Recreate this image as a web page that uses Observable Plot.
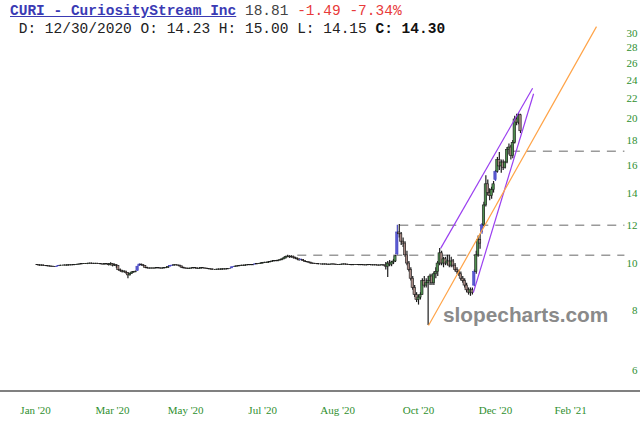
<!DOCTYPE html>
<html>
<head>
<meta charset="utf-8">
<script src="https://cdn.jsdelivr.net/npm/d3@7"></script>
<script src="https://cdn.jsdelivr.net/npm/@observablehq/plot@0.6"></script>
<style>
  body { margin: 0; background: #fff; }
  #wrap { position: relative; width: 640px; height: 426px; overflow: hidden; background: #fff; }
  #chart { position: absolute; left: 0; top: 0; }
  #hdr { position: absolute; left: 10px; top: 2px; font-family: "Liberation Mono", "Courier New", monospace;
         font-size: 14.5px; line-height: 18px; white-space: pre; color: #222; }
  #hdr .sym { color: #3a3ab4; font-weight: bold; text-decoration: underline; }
  #hdr .last { color: #444; }
  #hdr .chg { color: #e83a3a; }
  #hdr b { color: #111; }
  #wm { position: absolute; left: 443px; top: 303px; font-family: "Liberation Sans", Arial, sans-serif;
        font-weight: bold; font-size: 20.8px; color: #8a8a8a; }
  #base { position: absolute; left: 0; top: 390px; width: 640px; height: 2px; background: #808080; }
</style>
</head>
<body>
<div id="wrap">
  <div id="chart"></div>
  <div id="hdr"></div>
  <div id="wm"></div>
  <div id="base"></div>
</div>
<script>
// ---- header text ----
const symbol = "CURI";
const company = "CuriosityStream Inc";
const lastPrice = "18.81";
const change = "-1.49";
const changePct = "-7.34%";
const quoteDate = "12/30/2020";
const quoteO = "14.23", quoteH = "15.00", quoteL = "14.15", quoteC = "14.30";
const watermark = "slopecharts.com";

// ---- daily bars (trading-day index 0..251) ----
const opens = [
9.93,9.92,9.90,9.91,9.89,9.88,9.87,9.86,9.85,9.84,
9.84,9.87,9.88,9.90,9.90,9.91,9.90,9.92,9.91,9.92,
9.93,9.94,9.95,9.96,9.97,9.98,9.97,9.99,10.00,9.99,
9.98,9.99,9.98,9.97,9.96,9.95,9.97,9.96,9.92,9.98,
9.90,9.94,9.88,9.70,9.65,9.60,9.62,9.55,9.45,9.52,
9.58,9.60,9.66,9.88,9.95,9.92,9.88,9.80,9.77,9.76,
9.77,9.76,9.77,9.78,9.77,9.76,9.77,9.78,9.80,9.86,
9.89,9.90,9.92,9.91,9.90,9.86,9.80,9.77,9.76,9.74,
9.76,9.77,9.78,9.77,9.75,9.76,9.78,9.77,9.76,9.74,
9.73,9.72,9.70,9.70,9.71,9.72,9.71,9.73,9.72,9.73,
9.74,9.77,9.83,9.84,9.86,9.87,9.88,9.90,9.89,9.91,
9.92,9.93,9.92,9.95,9.96,9.98,9.97,10.00,10.02,10.04,
10.03,10.06,10.08,10.10,10.12,10.11,10.14,10.16,10.20,10.25,
10.32,10.34,10.30,10.33,10.28,10.24,10.20,10.16,10.18,10.12,
10.08,10.06,10.04,10.00,9.99,9.98,9.97,9.96,9.96,9.95,
9.96,9.95,9.94,9.95,9.96,9.95,9.94,9.93,9.94,9.95,
9.96,9.95,9.94,9.93,9.92,9.93,9.94,9.93,9.92,9.93,
9.92,9.91,9.92,9.93,9.92,9.91,9.92,9.91,9.90,9.91,
9.92,9.90,9.85,10.00,9.95,10.05,10.10,10.45,11.60,11.50,
11.10,11.00,10.40,10.00,9.70,9.30,8.90,8.60,8.40,8.50,
8.60,9.20,9.00,9.10,9.20,9.40,9.10,9.50,9.60,10.00,
10.50,10.00,10.20,10.00,10.10,9.90,10.10,9.90,9.70,9.60,
9.50,9.30,9.20,9.00,8.80,8.70,8.80,9.00,9.60,10.40,
11.20,11.60,12.00,13.20,14.60,14.00,13.80,14.20,14.90,15.50,
16.40,15.90,16.20,15.80,16.20,17.20,17.40,16.70,17.80,19.90,
19.60,20.30];
const highs = [
9.95,9.94,9.93,9.93,9.91,9.90,9.89,9.88,9.87,9.86,
9.87,9.90,9.92,9.92,9.93,9.93,9.94,9.94,9.94,9.95,
9.96,9.97,9.98,9.99,10.00,10.00,10.01,10.02,10.02,10.01,
10.01,10.01,10.00,9.99,9.98,9.99,9.99,10.00,10.04,10.00,
9.98,9.96,9.90,9.74,9.68,9.66,9.64,9.58,9.55,9.60,
9.63,9.65,9.88,9.98,9.97,9.94,9.90,9.82,9.79,9.79,
9.79,9.79,9.80,9.80,9.79,9.79,9.80,9.82,9.86,9.90,
9.92,9.94,9.94,9.93,9.92,9.88,9.82,9.79,9.78,9.78,
9.79,9.80,9.80,9.79,9.78,9.80,9.80,9.79,9.78,9.76,
9.75,9.74,9.72,9.73,9.74,9.74,9.75,9.75,9.75,9.76,
9.76,9.84,9.86,9.88,9.89,9.90,9.92,9.92,9.93,9.94,
9.95,9.95,9.96,9.98,10.00,10.00,10.02,10.04,10.06,10.06,
10.08,10.10,10.12,10.14,10.14,10.16,10.18,10.22,10.28,10.36,
10.40,10.38,10.38,10.36,10.30,10.27,10.22,10.22,10.20,10.14,
10.10,10.08,10.06,10.02,10.01,10.00,9.99,9.98,9.98,9.98,
9.98,9.97,9.97,9.98,9.98,9.97,9.96,9.96,9.97,9.98,
9.98,9.97,9.96,9.95,9.95,9.96,9.96,9.95,9.95,9.95,
9.94,9.94,9.95,9.95,9.94,9.94,9.94,9.93,9.93,9.94,
9.94,10.05,10.10,10.15,10.10,10.20,10.40,12.00,12.05,11.60,
11.30,11.10,10.60,10.10,9.80,9.40,9.00,8.70,8.60,8.70,
9.30,9.40,9.30,9.40,9.50,9.50,9.60,9.80,10.10,10.75,
10.60,10.30,10.30,10.40,10.40,10.30,10.20,10.00,9.80,9.70,
9.60,9.40,9.30,9.10,8.90,8.90,8.90,9.70,10.60,11.40,
11.50,12.10,13.40,15.20,14.90,14.30,14.40,14.80,15.60,16.60,
17.00,16.40,16.40,16.30,17.40,17.70,17.60,18.00,20.20,20.40,
20.50,20.40];
const lows = [
9.90,9.88,9.88,9.87,9.86,9.85,9.84,9.83,9.82,9.81,
9.83,9.86,9.87,9.88,9.89,9.88,9.88,9.89,9.89,9.90,
9.91,9.92,9.93,9.94,9.95,9.95,9.95,9.97,9.97,9.96,
9.96,9.96,9.95,9.94,9.93,9.93,9.94,9.88,9.90,9.84,
9.86,9.78,9.66,9.60,9.56,9.56,9.50,9.30,9.42,9.50,
9.55,9.57,9.64,9.86,9.89,9.85,9.78,9.75,9.74,9.74,
9.74,9.74,9.75,9.75,9.74,9.74,9.75,9.76,9.78,9.84,
9.87,9.88,9.89,9.88,9.84,9.78,9.75,9.74,9.72,9.72,
9.74,9.75,9.75,9.73,9.73,9.74,9.75,9.74,9.72,9.71,
9.70,9.68,9.68,9.68,9.69,9.69,9.69,9.70,9.70,9.71,
9.72,9.76,9.81,9.82,9.84,9.85,9.86,9.87,9.87,9.89,
9.90,9.90,9.90,9.93,9.94,9.95,9.95,9.98,10.00,10.01,
10.01,10.04,10.06,10.08,10.09,10.09,10.12,10.14,10.18,10.22,
10.28,10.25,10.26,10.22,10.20,10.16,10.12,10.14,10.10,10.06,
10.04,10.02,9.98,9.97,9.96,9.95,9.94,9.94,9.93,9.93,
9.93,9.92,9.92,9.93,9.93,9.92,9.91,9.91,9.92,9.93,
9.93,9.92,9.91,9.90,9.90,9.91,9.91,9.90,9.90,9.90,
9.89,9.89,9.90,9.90,9.89,9.89,9.89,9.88,9.88,9.89,
9.88,9.70,9.35,9.85,9.85,9.95,10.05,10.40,11.30,10.90,
10.80,10.30,9.90,9.60,9.20,8.80,8.50,8.30,8.20,8.40,
8.60,8.90,8.90,7.44,9.00,9.00,9.00,9.30,9.40,9.90,
9.90,9.80,9.90,9.90,9.80,9.80,9.80,9.60,9.50,9.40,
9.20,9.10,8.90,8.70,8.60,8.55,8.60,8.95,9.50,10.30,
10.70,11.50,11.90,13.10,13.80,13.50,13.60,14.00,14.80,15.40,
15.60,15.40,15.60,15.70,16.10,16.80,16.40,16.50,17.70,19.30,
19.40,18.60];
const closes = [
9.92,9.90,9.91,9.89,9.88,9.87,9.86,9.85,9.84,9.83,
9.85,9.88,9.90,9.90,9.91,9.90,9.92,9.91,9.92,9.93,
9.94,9.95,9.96,9.97,9.98,9.97,9.99,10.00,9.99,9.98,
9.99,9.98,9.97,9.96,9.95,9.97,9.96,9.92,9.98,9.90,
9.94,9.88,9.70,9.65,9.60,9.62,9.55,9.45,9.52,9.58,
9.60,9.62,9.85,9.95,9.92,9.88,9.80,9.77,9.76,9.77,
9.76,9.77,9.78,9.77,9.76,9.77,9.78,9.80,9.84,9.88,
9.90,9.92,9.91,9.90,9.86,9.80,9.77,9.76,9.74,9.76,
9.77,9.78,9.77,9.75,9.76,9.78,9.77,9.76,9.74,9.73,
9.72,9.70,9.70,9.71,9.72,9.71,9.73,9.72,9.73,9.74,
9.74,9.82,9.84,9.86,9.87,9.88,9.90,9.89,9.91,9.92,
9.93,9.92,9.94,9.96,9.98,9.97,10.00,10.02,10.04,10.03,
10.06,10.08,10.10,10.12,10.11,10.14,10.16,10.20,10.25,10.32,
10.34,10.30,10.33,10.28,10.24,10.20,10.15,10.18,10.12,10.08,
10.06,10.04,10.00,9.99,9.98,9.97,9.96,9.96,9.95,9.96,
9.95,9.94,9.95,9.96,9.95,9.94,9.93,9.94,9.95,9.96,
9.95,9.94,9.93,9.92,9.93,9.94,9.93,9.92,9.93,9.92,
9.91,9.92,9.93,9.92,9.91,9.92,9.91,9.90,9.91,9.92,
9.90,9.85,10.00,9.95,10.05,10.10,10.35,11.60,11.50,11.10,
11.00,10.40,10.00,9.70,9.30,8.90,8.60,8.40,8.50,8.60,
9.20,9.00,9.10,9.20,9.40,9.10,9.50,9.60,10.00,10.50,
10.00,10.20,10.00,10.10,9.90,10.10,9.90,9.70,9.60,9.50,
9.30,9.20,9.00,8.80,8.70,8.80,8.70,9.60,10.40,11.20,
11.00,12.00,13.20,14.60,14.00,13.80,14.20,14.60,15.50,16.40,
15.90,16.20,15.80,16.20,17.20,17.40,16.70,17.80,19.90,19.60,
20.30,18.81];

// ---- axis ticks ----
const yTicks = [6, 8, 10, 12, 14, 16, 18, 20, 22, 24, 26, 28, 30];
const xTickIdx = [-1, 39, 77, 117, 156, 198, 238, 277];
const xTickLabels = ["Jan '20", "Mar '20", "May '20", "Jul '20", "Aug '20", "Oct '20", "Dec '20", "Feb '21"];

// ---- annotations ----
const levelValues = [17.1, 12.0, 10.4];
const levelFromIdx = [246, 188, 135];
const levelToIdx = 305;
const trendKinds = ["channel", "channel", "support"];
const trendFromIdx = [209.5, 226.5, 203.2];
const trendFromVal = [10.75, 8.7, 7.44];
const trendToIdx = [257.3, 257.8, 290.5];
const trendToVal = [23.1, 22.5, 31.0];

// ---- build ----
document.getElementById("hdr").innerHTML =
  `<span class="sym">${symbol} - ${company}</span> <span class="last">${lastPrice}</span> <span class="chg">${change} ${changePct}</span>\n` +
  ` D: ${quoteDate} O: ${quoteO} H: ${quoteH} L: ${quoteL} <b>C: ${quoteC}</b>`;
document.getElementById("wm").textContent = watermark;

const bars = closes.map((c, i) => {
  const o = opens[i];
  const gap = i > 0 && o > closes[i - 1] + 0.001;
  return {i, open: o, high: highs[i], low: lows[i], close: c,
          kind: gap ? "gap" : (c >= o ? "up" : "down")};
});
const levels = levelValues.map((v, k) => ({value: v, from: levelFromIdx[k], to: levelToIdx}));
const trends = trendKinds.map((kind, k) => ({kind, x1: trendFromIdx[k], y1: trendFromVal[k], x2: trendToIdx[k], y2: trendToVal[k]}));
const labelMap = new Map(xTickIdx.map((d, k) => [d, xTickLabels[k]]));

const BLUE = "#5a5ad2", GREEN = "#4f8f4f", BROWN = "#a88a84", INK = "#1c1c1c";
const fillOf = d => d.kind === "gap" ? BLUE : d.kind === "up" ? GREEN : BROWN;
const strokeOf = d => d.kind === "gap" ? "#4848c0" : INK;
const TICK = "#2f8f2f";

const chart = Plot.plot({
  width: 640,
  height: 426,
  marginTop: 0, marginRight: 0, marginBottom: 35, marginLeft: 0,
  x: {type: "linear", domain: [0, 251], range: [37, 520]},
  y: {type: "log", domain: [6, 30], range: [370, 33]},
  color: {type: "identity"},
  style: {background: "transparent", overflow: "visible"},
  marks: [
    Plot.link(levels, {x1: "from", x2: "to", y1: "value", y2: "value",
      stroke: "#9a9a9a", strokeWidth: 1.5, strokeDasharray: "9,7"}),
    Plot.ruleX(bars, {x: "i", y1: "low", y2: "high", stroke: strokeOf, strokeWidth: 1.2}),
    Plot.rect(bars, {x1: d => d.i - 0.6, x2: d => d.i + 0.6, y1: "open", y2: "close",
      fill: fillOf, stroke: strokeOf, strokeWidth: 0.6}),
    Plot.link(trends, {x1: "x1", y1: "y1", x2: "x2", y2: "y2",
      stroke: d => d.kind === "support" ? "#ffa347" : "#9a3ff0", strokeWidth: 1.2}),
    Plot.axisY(yTicks, {anchor: "right", tickSize: 0, tickPadding: 0, textAnchor: "end", dx: -3,
      tickFormat: d => String(d), fill: TICK, fontSize: 11, fontFamily: "Liberation Serif", label: null}),
    Plot.axisX(xTickIdx, {anchor: "bottom", tickSize: 0, tickPadding: 15,
      tickFormat: d => labelMap.get(d), fill: TICK, fontSize: 11, fontFamily: "Liberation Serif", label: null})
  ]
});
document.getElementById("chart").appendChild(chart);
</script>
</body>
</html>
